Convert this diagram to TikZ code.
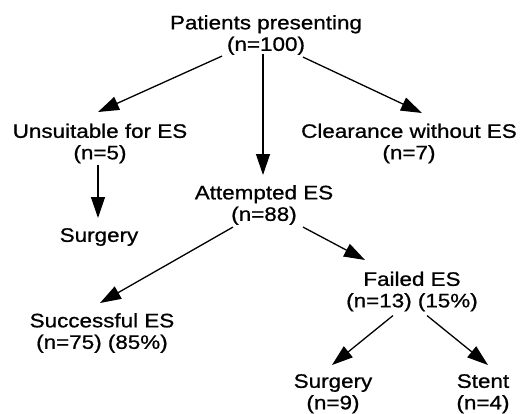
\documentclass[tikz,border=0pt]{standalone}
\usepackage{fontspec}
\setmainfont{Liberation Sans}[FakeStretch=1.15,FakeBold=0.8]
\usetikzlibrary{arrows.meta}
\tikzset{
  lbl/.style={align=center, inner sep=0pt, anchor=north, font=\fontsize{19.5}{21.5}\selectfont},
  arr/.style={line width=1.3pt, -{Triangle[length=21pt,width=14pt]}}
}
\begin{document}
\begin{tikzpicture}[x=1pt,y=-1pt]
\useasboundingbox (0,0) rectangle (520,413);
\node[lbl] (pat) at (266,15) {Patients presenting\\(n=100)};
\node[lbl] (uns) at (100,123.5) {Unsuitable for ES\\(n=5)};
\node[lbl] (clr) at (409,123.5) {Clearance without ES\\(n=7)};
\node[lbl] (sur1) at (99,228) {Surgery};
\node[lbl] (att) at (264,185) {Attempted ES\\(n=88)};
\node[lbl] (fai) at (412,271.5) {Failed ES\\(n=13) (15\%)};
\node[lbl] (suc) at (102,313) {Successful ES\\(n=75) (85\%)};
\node[lbl] (sur2) at (333,374) {Surgery\\(n=9)};
\node[lbl] (ste) at (483,374) {Stent\\(n=4)};
\draw[arr] ([xshift=-44pt,yshift=-1pt]pat.south) -- ([xshift=-2pt,yshift=11.5pt]uns.north);
\draw[arr] ([xshift=37pt,yshift=-2pt]pat.south) -- ([xshift=13pt,yshift=10.5pt]clr.north);
\draw[arr] ([xshift=-3pt,yshift=1pt]pat.south) -- ([xshift=-1pt,yshift=10pt]att.north);
\draw[arr] ([xshift=-2pt,yshift=-1pt]uns.south) -- ([xshift=-1pt,yshift=10pt]sur1.north);
\draw[arr] ([xshift=-31pt,yshift=-2pt]att.south) -- ([xshift=-2pt,yshift=10pt]suc.north);
\draw[arr] ([xshift=39pt,yshift=-2pt]att.south) -- ([xshift=-47pt,yshift=11.5pt]fai.north);
\draw[arr] ([xshift=-19pt,yshift=-4pt]fai.south) -- ([xshift=-1pt,yshift=9pt]sur2.north);
\draw[arr] ([xshift=15pt,yshift=-4pt]fai.south) -- ([xshift=5pt,yshift=9pt]ste.north);
\end{tikzpicture}
\end{document}
